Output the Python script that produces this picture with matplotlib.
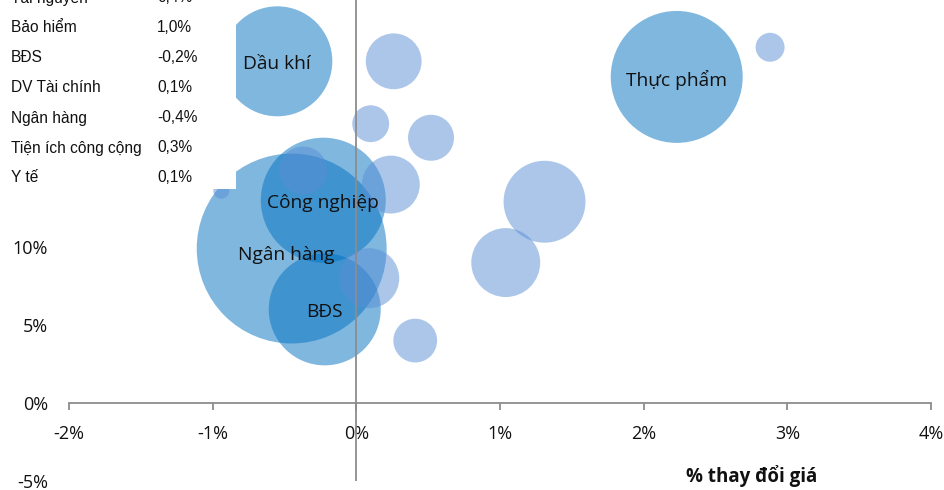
import matplotlib.pyplot as plt
from matplotlib.ticker import FuncFormatter

# bubble data: x = % thay đổi giá, y = % (trục tung), size = vốn hóa (tương đối)
nhan    = ["Ngân hàng", "Dầu khí", "Thực phẩm", "Công nghiệp", "BĐS",
           "", "", "", "", "", "", "", "", "", "", ""]
gia     = [-0.45, -0.55, 2.23, -0.23, -0.22,
           2.88, 0.26, 0.10, 0.52, 0.24, -0.37, 0.09, 0.41, 1.04, 1.31, -0.94]
truc_y  = [9.9, 21.9, 20.9, 13.0, 6.0,
           22.8, 21.9, 17.9, 17.0, 14.0, 14.9, 8.0, 4.0, 9.0, 12.9, 13.6]
von_hoa = [90.3, 30.3, 43.6, 39.1, 31.4,
           2.1, 7.8, 3.4, 5.3, 8.4, 5.8, 9.0, 4.8, 11.9, 16.8, 0.64]

bang_ten = ["Tài nguyên", "Bảo hiểm", "BĐS", "DV Tài chính", "Ngân hàng",
            "Tiện ích công cộng", "Y tế"]
bang_gt  = [0.4, 1.0, -0.2, 0.1, -0.4, 0.3, 0.1]

x_ticks = [-2, -1, 0, 1, 2, 3, 4]
y_ticks = [-5, 0, 5, 10]   # 15%..25% nằm dưới bảng

DARK  = "#0070C0"
LIGHT = "#5A8FD6"
AXIS  = "#8C8C8C"
TXT   = "#111111"
LABEL_FONT = ["Open Sans", "DejaVu Sans"]

fig = plt.figure(figsize=(9.45, 4.9), dpi=100)
ax = fig.add_axes([69 / 945, 9 / 490, 862 / 945, 481 / 490])

for lbl, x, y, s in zip(nhan, gia, truc_y, von_hoa):
    col = DARK if lbl else LIGHT
    ax.scatter(x, y, s=s * 207, color=col, alpha=0.5, edgecolors="none", zorder=2)
    if lbl:
        # nhãn hơi lệch xuống như bản gốc
        off = (-5, -6) if lbl == "Ngân hàng" else (0, -3)
        ax.annotate(lbl, (x, y), xytext=off, textcoords="offset pixels",
                    ha="center", va="center", fontsize=13.8,
                    family=LABEL_FONT, color=TXT, zorder=4)

ax.set_xlim(-2, 4)
ax.set_ylim(-5, 25.83)
ax.set_xticks(x_ticks)
ax.set_yticks(y_ticks)
pct = FuncFormatter(lambda v, _: f"{v:.0f}%")
ax.xaxis.set_major_formatter(pct)
ax.yaxis.set_major_formatter(pct)

for side in ["top", "right", "left"]:
    ax.spines[side].set_visible(False)
ax.spines["bottom"].set_position(("data", 0))
ax.spines["bottom"].set_color(AXIS)
ax.spines["bottom"].set_linewidth(1.3)
ax.axvline(0, color=AXIS, linewidth=1.3, zorder=3)

ax.tick_params(axis="x", direction="out", length=5, width=1.3, color=AXIS,
               pad=11, labelsize=13, labelcolor=TXT)
ax.tick_params(axis="y", length=0, pad=15, labelsize=13, labelcolor=TXT)
for t in ax.get_xticklabels() + ax.get_yticklabels():
    t.set_family(LABEL_FONT)

fig.text(752 / 945, 14 / 490, "% thay đổi giá", ha="center", va="center",
         fontsize=13.5, fontweight="bold", family=LABEL_FONT, color=TXT)

# bảng chú thích (che phần trên bên trái)
tab = fig.add_axes([0, 1 - 189 / 490, 236 / 945, 189 / 490])
tab.set_facecolor("white")
tab.set_zorder(5)
tab.set_xticks([])
tab.set_yticks([])
for sp in tab.spines.values():
    sp.set_visible(False)
tab.set_xlim(0, 236)
tab.set_ylim(189, 0)
for i, (ten, gt) in enumerate(zip(bang_ten, bang_gt)):
    yy = -2 + 30 * i
    tab.text(11, yy, ten, va="center", ha="left", fontsize=11.2,
             family="Liberation Sans", color=TXT, clip_on=False)
    tab.text(157, yy, f"{gt:.1f}%".replace(".", ","), va="center", ha="left",
             fontsize=11.2, family="Liberation Sans", color=TXT, clip_on=False)

fig.savefig("out.png", dpi=100, facecolor="white")
